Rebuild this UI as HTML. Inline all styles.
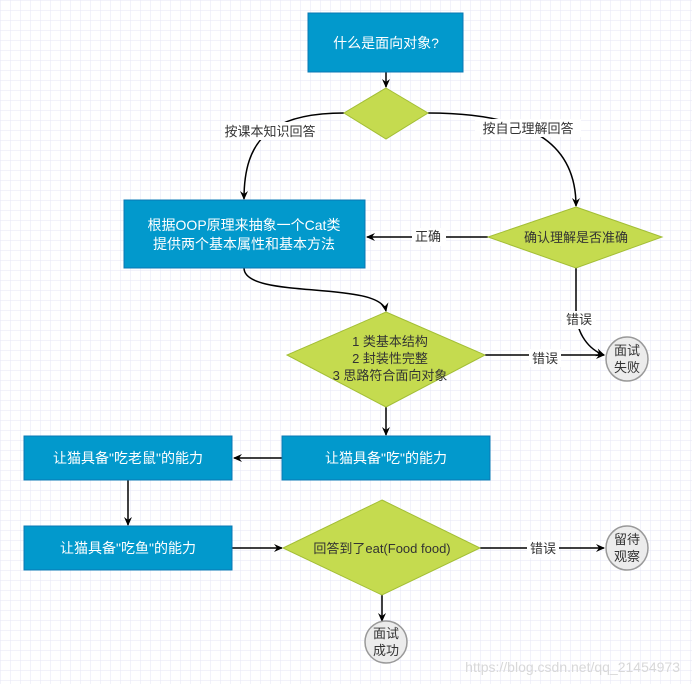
<!DOCTYPE html>
<html><head><meta charset="utf-8"><style>
html,body{margin:0;padding:0;background:#fff;}
svg{display:block;}
text{font-family:"Liberation Sans","Noto Sans CJK SC",sans-serif;}
</style></head><body>
<svg width="692" height="684" viewBox="0 0 692 684" xmlns="http://www.w3.org/2000/svg">
<defs>
<pattern id="g" width="10" height="10" patternUnits="userSpaceOnUse">
<path d="M10 0H0V10" fill="none" stroke="#e6e6f6" stroke-width="1"/>
</pattern>
<marker id="a" markerWidth="10" markerHeight="10" refX="8" refY="5" orient="auto" markerUnits="userSpaceOnUse">
<path d="M0,1 L9,5 L0,9 L3,5 Z" fill="#000"/>
</marker>
</defs>
<rect width="692" height="684" fill="#fff"/>
<rect width="692" height="684" fill="url(#g)"/>

<g stroke="#000" stroke-width="1.5" fill="none" marker-end="url(#a)">
<path d="M386 72 V87"/>
<path d="M344 113 C270 113 244 140 244 199"/>
<path d="M428 113 C540 113 576 150 576 206"/>
<path d="M488 237 H367"/>
<path d="M244 268 C244 300 380 280 386 311"/>
<path d="M576 268 V310 C576 335 590 350 604 355"/>
<path d="M485 355 H604"/>
<path d="M386 407 V435"/>
<path d="M282 458 H234"/>
<path d="M128 480 V525"/>
<path d="M232 548 H282"/>
<path d="M480 548 H604"/>
<path d="M382 595 V621"/>
</g>

<g font-size="13" fill="#333" text-anchor="middle">
<rect x="222" y="122" width="96" height="18" fill="#fff"/>
<text x="270" y="136">按课本知识回答</text>
<rect x="475" y="119" width="106" height="18" fill="#fff"/>
<text x="528" y="133">按自己理解回答</text>
<rect x="412" y="228" width="34" height="18" fill="#fff"/>
<text x="428" y="241">正确</text>
<rect x="562" y="311" width="34" height="18" fill="#fff"/>
<text x="579" y="324">错误</text>
<rect x="529" y="349" width="32" height="18" fill="#fff"/>
<text x="545" y="363">错误</text>
<rect x="527" y="540" width="32" height="18" fill="#fff"/>
<text x="543" y="553">错误</text>
</g>

<g stroke="#0b78b4" stroke-width="1" fill="#0299cc">
<rect x="308" y="13" width="155" height="59"/>
<rect x="124" y="200" width="241" height="68"/>
<rect x="282" y="436" width="208" height="44"/>
<rect x="24" y="436" width="208" height="44"/>
<rect x="24" y="526" width="208" height="44"/>
</g>
<g fill="#fff" font-size="14" text-anchor="middle">
<text x="386" y="48">什么是面向对象?</text>
<text x="244" y="230">根据OOP原理来抽象一个Cat类</text>
<text x="244" y="249">提供两个基本属性和基本方法</text>
<text x="386" y="463">让猫具备"吃"的能力</text>
<text x="128" y="463">让猫具备"吃老鼠"的能力</text>
<text x="128" y="553">让猫具备"吃鱼"的能力</text>
</g>

<g fill="#c5db4f" stroke="#a3be35" stroke-width="1">
<polygon points="386,88 428,113 386,139 344,113"/>
<polygon points="576,207 662,237 576,268 488,237"/>
<polygon points="386,312 485,355 386,407 287,355"/>
<polygon points="382,500 480,548 382,595 283,548"/>
</g>
<g fill="#333" font-size="13" text-anchor="middle">
<text x="576" y="242">确认理解是否准确</text>
<text x="390" y="346">1 类基本结构</text>
<text x="390" y="363">2 封装性完整</text>
<text x="390" y="380">3 思路符合面向对象</text>
<text x="382" y="553">回答到了eat(Food food)</text>
</g>

<g fill="#ececec" stroke="#999" stroke-width="1.5">
<ellipse cx="627" cy="359" rx="21" ry="22"/>
<ellipse cx="627" cy="548" rx="21" ry="22"/>
<ellipse cx="386" cy="642" rx="21" ry="21"/>
</g>
<g fill="#333" font-size="13" text-anchor="middle">
<text x="627" y="355">面试</text>
<text x="627" y="372">失败</text>
<text x="627" y="544">留待</text>
<text x="627" y="561">观察</text>
<text x="386" y="638">面试</text>
<text x="386" y="655">成功</text>
</g>
<text x="680" y="672" font-size="14" fill="#d8d8d8" text-anchor="end">https://blog.csdn.net/qq_21454973</text>
</svg>
</body></html>
